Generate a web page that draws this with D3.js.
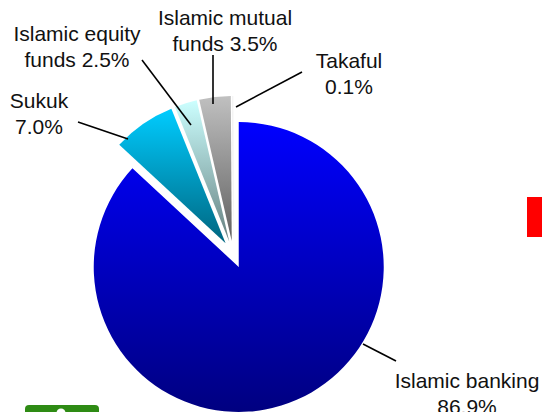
<!DOCTYPE html>
<html><head><meta charset="utf-8">
<script src="https://cdn.jsdelivr.net/npm/d3@7/dist/d3.min.js"></script>
<style>html,body{margin:0;padding:0;background:#fff;overflow:hidden}svg{display:block}text{font-family:"Liberation Sans",Arial,sans-serif;font-size:21px;fill:#111;text-anchor:middle}</style>
</head><body><svg id="c" width="542" height="412"></svg>
<script>
const categories = ["Islamic banking","Sukuk","Islamic equity funds","Islamic mutual funds","Takaful"];
const values = [86.9,7.0,2.5,3.5,0.1];
const topColors = ["#0000ff","#00ccff","#ccffff","#c0c0c0","#f0f0f0"];
const bottomColors = ["#000080","#006680","#668080","#606060","#d0d0d0"];
const labelLines = [["Islamic banking","86.9%"],["Sukuk","7.0%"],["Islamic equity","funds 2.5%"],["Islamic mutual","funds 3.5%"],["Takaful","0.1%"]];

const W=542,H=412, cx=233.3, cy=254.5, R=145, explode=13.6, lineStep=25.5;
const labelPos=[[467,388],[39,108],[77,41],[225,25],[349,68]];
const leaders=[[[363,344],[396,361]],[[78,122],[128,139]],[[142,60],[191,125]],[[213,55],[213,104]],[[236,107],[302,72]]];

const svg=d3.select("#c");
const defs=svg.append("defs");
const pie=d3.pie().sort(null).value(d=>d)(values);
const arc=d3.arc().innerRadius(0).outerRadius(R);
const g=svg.append("g").attr("transform",`translate(${cx},${cy})`);
pie.forEach((p,i)=>{
  const id="grad"+i;
  const gr=defs.append("linearGradient").attr("id",id).attr("x1",0).attr("y1",0).attr("x2",0).attr("y2",1);
  gr.append("stop").attr("offset","0%").attr("stop-color",topColors[i]);
  gr.append("stop").attr("offset","100%").attr("stop-color",bottomColors[i]);
  const mid=(p.startAngle+p.endAngle)/2;
  g.append("path").attr("d",arc(p)).attr("fill",`url(#${id})`)
    .attr("transform",`translate(${explode*Math.sin(mid)},${-explode*Math.cos(mid)})`);
});
const line=d3.line();
leaders.forEach(l=>svg.append("path").attr("d",line(l)).attr("stroke","#000").attr("stroke-width",1.6).attr("fill","none"));
labelLines.forEach((ls,i)=>{
  const t=svg.append("text").attr("x",labelPos[i][0]).attr("y",labelPos[i][1]);
  ls.forEach((s,j)=>t.append("tspan").attr("x",labelPos[i][0]).attr("dy",j?lineStep:0).text(s));
});
svg.append("rect").attr("x",527).attr("y",197).attr("width",15).attr("height",40).attr("fill","#ff0000");
svg.append("rect").attr("x",25).attr("y",405).attr("width",74).attr("height",14).attr("rx",4).attr("fill","#2e8b14");
svg.append("circle").attr("cx",61).attr("cy",413).attr("r",4.5).attr("fill","#fff");
</script></body></html>
